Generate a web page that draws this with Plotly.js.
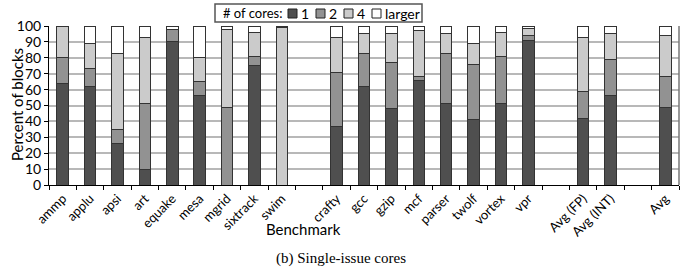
<!DOCTYPE html>
<html>
<head>
<meta charset="utf-8">
<script src="https://cdn.plot.ly/plotly-3.0.1.min.js"></script>
<style>html,body{margin:0;padding:0;background:#fff;}#chart{width:686px;height:280px;}</style>
</head>
<body>
<div id="chart"></div>
<script>
// Categories (blank entries are the spacer slots between groups)
const categories = ["ammp","applu","apsi","art","equake","mesa","mgrid","sixtrack","swim"," ",
  "crafty","gcc","gzip","mcf","parser","twolf","vortex","vpr","  ",
  "Avg (FP)","Avg (INT)","   ","Avg"];
const benchmarks = ["ammp","applu","apsi","art","equake","mesa","mgrid","sixtrack","swim",
  "crafty","gcc","gzip","mcf","parser","twolf","vortex","vpr","Avg (FP)","Avg (INT)","Avg"];
const cores1 =      [64, 62, 26, 10, 90, 56,  0, 75,  0, 37, 62, 48, 66, 51, 41, 51, 91,   42, 56, 49];
const cores2 =      [16, 11,  9, 41,  8,  9, 49,  6,  0, 34, 21, 29,  2, 32, 35, 30,  3,   17, 23, 19];
const cores4 =      [20, 16, 48, 42,  0, 15, 49, 15, 99, 22, 12, 18, 29, 12, 13, 15, 4.5, 34, 16, 26];
const coresLarger = [ 0, 11, 17,  7,  2, 20,  2,  4,  1,  7,  5,  5,  3,  5, 11,  4, 1.5,  7,  5,  6];
const seriesNames = ["1","2","4","larger"];
const seriesColors = ["#4f4f4f","#929292","#cbcbcb","#ffffff"];
const yTicks = [0,10,20,30,40,50,60,70,80,90,100];
const legendTitle = "# of cores:";

const W = 686, H = 280, ML = 49, MR = 7, MT = 26, MB = 95;
const PW = W - ML - MR, PH = H - MT - MB;
const px2x = p => (p - ML) / PW;          // pixel -> paper x
const px2y = p => (H - MB - p) / PH;      // pixel -> paper y

const font = "Lato, Open Sans, sans-serif";
const series = [cores1, cores2, cores4, coresLarger];
const traces = series.map((vals, i) => ({
  type: "bar",
  name: seriesNames[i],
  x: benchmarks,
  y: vals,
  width: 0.42,
  showlegend: false,
  marker: {color: seriesColors[i], line: {color: "#333", width: 1}}
}));

// Hand-built compact legend (box, swatches, labels)
const shapes = [
  {type: "line", xref: "paper", yref: "paper", x0: 1, x1: 1, y0: 0, y1: 1,
   line: {color: "#777", width: 1.5}},
  {type: "rect", xref: "paper", yref: "paper", x0: px2x(215), x1: px2x(422), y0: px2y(22), y1: px2y(4),
   line: {color: "#555", width: 1.5}, fillcolor: "#fff", layer: "above"}
];
const annotations = [
  {text: legendTitle, xref: "paper", yref: "paper", x: px2x(221), y: px2y(13.5),
   xanchor: "left", yanchor: "middle", showarrow: false, font: {family: font, size: 13, color: "#000"}}
];
const swatchX = [288, 316, 344, 372];
seriesNames.forEach((n, i) => {
  const sx = swatchX[i];
  shapes.push({type: "rect", xref: "paper", yref: "paper",
    x0: px2x(sx), x1: px2x(sx + 9), y0: px2y(18), y1: px2y(9),
    line: {color: "#222", width: 1}, fillcolor: seriesColors[i], layer: "above"});
  annotations.push({text: n, xref: "paper", yref: "paper", x: px2x(sx + 11), y: px2y(13.5),
    xanchor: "left", yanchor: "middle", showarrow: false, font: {family: font, size: 14, color: "#000"}});
});
annotations.push(
  {text: "Percent of blocks", xref: "paper", yref: "paper", x: px2x(17), y: px2y(105),
   xanchor: "center", yanchor: "middle", textangle: -90, showarrow: false,
   font: {family: font, size: 15, color: "#000"}},
  {text: "Benchmark", xref: "paper", yref: "paper", x: px2x(303), y: px2y(229),
   xanchor: "center", yanchor: "middle", showarrow: false,
   font: {family: font, size: 15, color: "#000"}},
  {text: "(b) Single-issue cores", xref: "paper", yref: "paper", x: px2x(341), y: px2y(258),
   xanchor: "center", yanchor: "middle", showarrow: false,
   font: {family: "Liberation Serif, Times New Roman, serif", size: 15, color: "#000"}}
);

const layout = {
  width: W, height: H,
  margin: {l: ML, r: MR, t: MT, b: MB},
  barmode: "stack",
  paper_bgcolor: "#fff", plot_bgcolor: "#fff",
  font: {family: font, color: "#000", size: 12},
  showlegend: false,
  xaxis: {
    type: "category", categoryorder: "array", categoryarray: categories,
    range: [-0.5, categories.length - 0.5],
    tickson: "boundaries", ticks: "outside", ticklen: 4, tickcolor: "#000",
    showline: true, linecolor: "#000", linewidth: 1,
    tickangle: -45, tickfont: {family: font, size: 13, color: "#000"},
    showgrid: false, automargin: false
  },
  yaxis: {
    range: [0, 100], tickvals: yTicks, ticks: "outside", ticklen: 4, tickcolor: "#000",
    showline: true, linecolor: "#000", linewidth: 1,
    showgrid: true, gridcolor: "#b8b8b8", gridwidth: 2,
    tickfont: {family: font, size: 14, color: "#000"},
    zeroline: false, automargin: false
  },
  shapes: shapes,
  annotations: annotations
};

Plotly.newPlot("chart", traces, layout, {displayModeBar: false, staticPlot: true});
</script>
</body>
</html>
